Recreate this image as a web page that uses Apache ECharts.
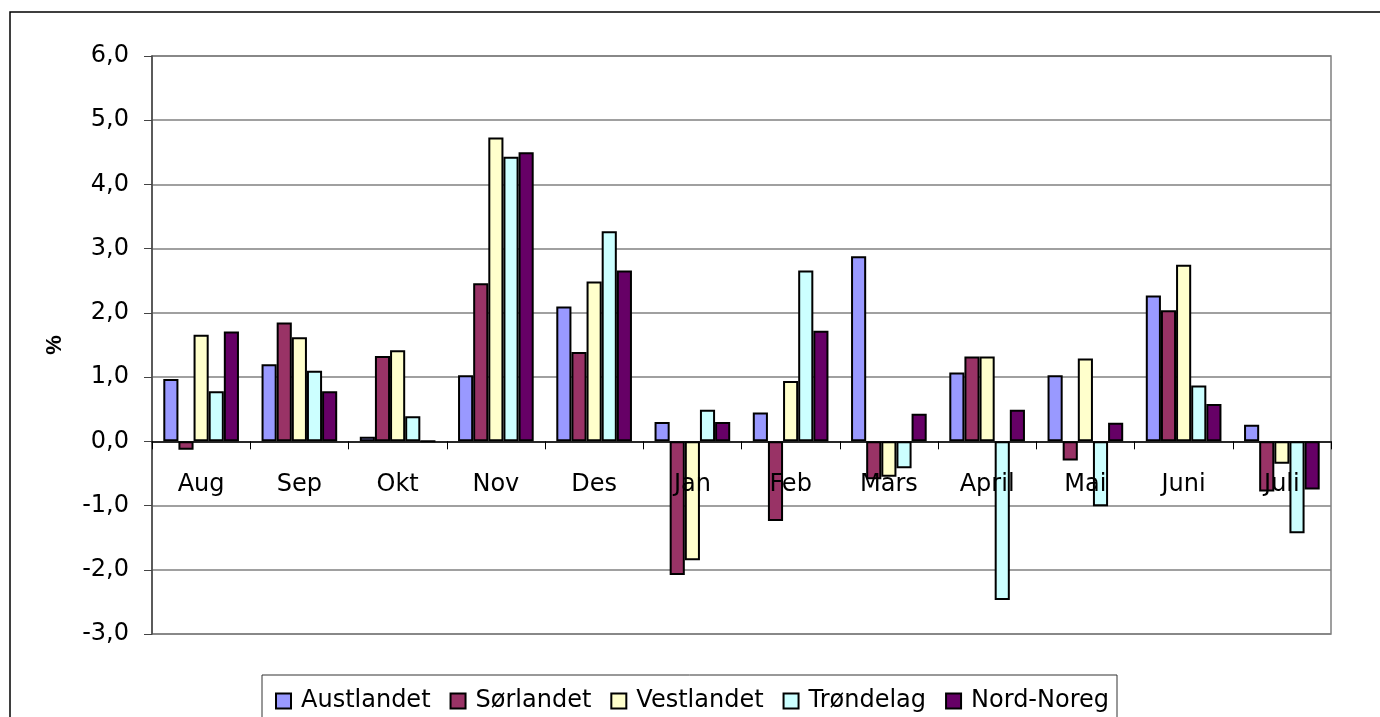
<!DOCTYPE html>
<html>
<head>
<meta charset="utf-8">
<title>Regionar</title>
<script src="https://cdn.jsdelivr.net/npm/echarts@6/dist/echarts.min.js"></script>
<style>
    html, body { margin: 0; padding: 0; background: #fff; }
    #chart { width: 1380px; height: 717px; }
</style>
</head>
<body>
<div id="chart"></div>
<script>
// manader
var months = ['Aug', 'Sep', 'Okt', 'Nov', 'Des', 'Jan', 'Feb', 'Mars', 'April', 'Mai', 'Juni', 'Juli'];

// regionar, prosent
var austlandet = [0.97, 1.20, 0.07, 1.03, 2.10, 0.30, 0.45, 2.88, 1.07, 1.03, 2.27, 0.26];
var sorlandet = [-0.13, 1.85, 1.33, 2.46, 1.39, -2.08, -1.24, -0.59, 1.32, -0.30, 2.04, -0.78];
var vestlandet = [1.66, 1.62, 1.42, 4.73, 2.49, -1.85, 0.94, -0.55, 1.32, 1.29, 2.75, -0.35];
var trondelag = [0.78, 1.10, 0.39, 4.43, 3.27, 0.49, 2.66, -0.42, -2.47, -1.01, 0.87, -1.43];
var nordNoreg = [1.71, 0.78, 0, 4.50, 2.66, 0.30, 1.72, 0.43, 0.49, 0.29, 0.58, -0.75];

var yMin = -3;
var yMax = 6;

var regions = [
    { name: 'Austlandet', data: austlandet, color: '#9999ff' },
    { name: 'Sørlandet', data: sorlandet, color: '#993366' },
    { name: 'Vestlandet', data: vestlandet, color: '#ffffcc' },
    { name: 'Trøndelag', data: trondelag, color: '#ccffff' },
    { name: 'Nord-Noreg', data: nordNoreg, color: '#660066' }
];

var font = 'DejaVu Sans';

// plotteomrade
var gridTop = 56;
var gridBottom = 83;
var plotHeight = 717 - gridTop - gridBottom;
// x-aksen skal sta pa null, ikkje nedst
var zeroOffset = -plotHeight * (0 - yMin) / (yMax - yMin);

var myChart = echarts.init(document.getElementById('chart'));

var option = {
    animation: false,
    backgroundColor: '#fff',
    graphic: [{
        type: 'rect',
        shape: { x: 10, y: 12, width: 1400, height: 730 },
        style: { fill: 'none', stroke: '#000', lineWidth: 1.5 },
        silent: true
    }],
    grid: {
        left: 152,
        right: 49,
        top: gridTop,
        bottom: gridBottom,
        show: true,
        borderColor: '#808080',
        borderWidth: 1.5
    },
    legend: {
        left: 262,
        top: 675,
        orient: 'horizontal',
        padding: [14, 8, 14, 13],
        borderColor: '#333',
        borderWidth: 1,
        itemWidth: 15,
        itemHeight: 15,
        itemGap: 19,
        icon: 'rect',
        textStyle: {
            fontFamily: font,
            fontSize: 24,
            color: '#000',
            padding: [0, 0, 0, 5]
        },
        data: regions.map(function(r) { return r.name; })
    },
    xAxis: {
        type: 'category',
        data: months,
        offset: zeroOffset,
        z: 5,
        axisLine: { onZero: true, lineStyle: { color: '#000', width: 1.5 } },
        axisTick: { show: true, length: 8, lineStyle: { color: '#000' } },
        axisLabel: {
            margin: 31,
            fontFamily: font,
            fontSize: 24,
            color: '#000'
        },
        splitLine: { show: false }
    },
    yAxis: {
        type: 'value',
        min: yMin,
        max: yMax,
        interval: 1,
        name: '%',
        nameLocation: 'middle',
        nameRotate: 90,
        nameGap: 86,
        nameTextStyle: {
            fontFamily: 'Liberation Sans',
            fontWeight: 'bold',
            fontSize: 22,
            color: '#000'
        },
        axisLine: { show: true, lineStyle: { color: '#444', width: 1.5 } },
        axisTick: { show: true, length: 8, lineStyle: { color: '#444' } },
        axisLabel: {
            margin: 23,
            fontFamily: font,
            fontSize: 24,
            color: '#000',
            formatter: function(v) {
                return v.toFixed(1).replace('.', ',');
            }
        },
        splitLine: { show: true, lineStyle: { color: '#808080', width: 1.5 } }
    },
    series: regions.map(function(r) {
        return {
            name: r.name,
            type: 'bar',
            data: r.data,
            barGap: '0%',
            barCategoryGap: '23%',
            itemStyle: {
                color: r.color,
                borderColor: '#000',
                borderWidth: 2
            }
        };
    })
};

myChart.setOption(option);
</script>
</body>
</html>
